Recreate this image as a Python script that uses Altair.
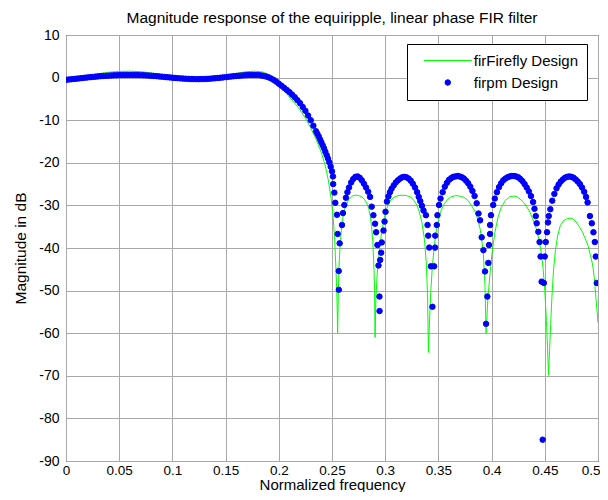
import altair as alt
import pandas as pd

# ---------------- data ----------------
x_ticks = [0, 0.05, 0.1, 0.15, 0.2, 0.25, 0.3, 0.35, 0.4, 0.45, 0.5]
y_ticks = [-90, -80, -70, -60, -50, -40, -30, -20, -10, 0, 10]

# firpm design (dots): passband + transition
firpm_pass_f = [0.0, 0.0025, 0.005, 0.0075, 0.01, 0.0125, 0.015, 0.0175, 0.02, 0.0225,
                0.025, 0.0275, 0.03, 0.0325, 0.035, 0.0375, 0.04, 0.0425, 0.045, 0.0475,
                0.05, 0.0525, 0.055, 0.0575, 0.06, 0.0625, 0.065, 0.0675, 0.07, 0.0725,
                0.075, 0.0775, 0.08, 0.0825, 0.085, 0.0875, 0.09, 0.0925, 0.095, 0.0975,
                0.1, 0.1025, 0.105, 0.1075, 0.11, 0.1125, 0.115, 0.1175, 0.12, 0.1225,
                0.125, 0.1275, 0.13, 0.1325, 0.135, 0.1375, 0.14, 0.1425, 0.145, 0.1475,
                0.15, 0.1525, 0.155, 0.1575, 0.16, 0.1625, 0.165, 0.1675, 0.17, 0.1725,
                0.175, 0.1775, 0.18, 0.1825, 0.185, 0.1875, 0.19, 0.1925, 0.195, 0.1975,
                0.2, 0.2025, 0.205, 0.2075, 0.21, 0.2125, 0.215, 0.2175, 0.22, 0.2225,
                0.225, 0.2275, 0.23, 0.2325, 0.235, 0.23625, 0.2375, 0.23875, 0.24, 0.24125,
                0.2425, 0.24375, 0.245, 0.24625, 0.2475, 0.24875, 0.25]
firpm_pass_db = [-0.50, -0.45, -0.39, -0.32, -0.25, -0.18, -0.11, -0.04, 0.03, 0.10,
                 0.16, 0.22, 0.28, 0.33, 0.38, 0.42, 0.46, 0.50, 0.53, 0.56,
                 0.58, 0.60, 0.61, 0.62, 0.62, 0.62, 0.61, 0.60, 0.58, 0.55,
                 0.52, 0.48, 0.44, 0.39, 0.34, 0.28, 0.22, 0.16, 0.10, 0.04,
                 -0.02, -0.08, -0.13, -0.18, -0.23, -0.27, -0.30, -0.33, -0.35, -0.36,
                 -0.36, -0.35, -0.33, -0.30, -0.26, -0.21, -0.15, -0.09, -0.03, 0.04,
                 0.11, 0.18, 0.25, 0.32, 0.38, 0.44, 0.49, 0.54, 0.58, 0.61,
                 0.62, 0.62, 0.60, 0.54, 0.44, 0.30, 0.10, -0.18, -0.52, -0.94,
                 -1.42, -1.9, -2.4, -2.9, -3.4, -4.0, -4.6, -5.3, -6.0, -6.9,
                 -7.8, -8.9, -10.0, -11.3, -12.6, -13.2, -13.8, -14.5, -15.2, -15.9,
                 -16.6, -17.4, -18.2, -19.0, -19.9, -20.9, -22.0]

# firpm design: stopband, null by null and lobe by lobe
firpm_null1_f = [0.2509, 0.2511, 0.2522, 0.2531, 0.2547, 0.2553, 0.2563, 0.2564, 0.2572, 0.2594, 0.2603, 0.2616]
firpm_null1_db = [-23.2, -25.0, -27.0, -29.4, -32.2, -36.7, -45.4, -49.8, -38.9, -34.6, -31.8, -29.9]
firpm_lobe1_f = [0.2631, 0.2645, 0.2660, 0.2680, 0.2700, 0.2720, 0.2740, 0.2760, 0.2780, 0.2800, 0.2820, 0.2840, 0.2858]
firpm_lobe1_db = [-28.2, -26.9, -25.8, -24.6, -23.8, -23.3, -23.2, -23.5, -24.1, -24.9, -25.8, -26.8, -28.0]
firpm_null2_f = [0.2873, 0.2889, 0.2905, 0.2915, 0.2927, 0.2937, 0.2946, 0.2947, 0.2953, 0.2962, 0.2968, 0.2984, 0.2994, 0.3003, 0.3016]
firpm_null2_db = [-30.3, -32.3, -34.3, -36.3, -39.3, -44.1, -51.4, -54.8, -42.8, -41.1, -38.7, -35.9, -33.8, -31.5, -29.1]
firpm_lobe2_f = [0.3030, 0.3045, 0.3060, 0.3080, 0.3100, 0.3120, 0.3140, 0.3160, 0.3180, 0.3200,
                 0.3220, 0.3240, 0.3260, 0.3280, 0.3300, 0.3315, 0.3330, 0.3345, 0.3360]
firpm_lobe2_db = [-27.9, -26.9, -26.1, -25.3, -24.6, -24.1, -23.7, -23.4, -23.3, -23.4,
                  -23.7, -24.2, -24.9, -25.8, -26.9, -28.0, -29.0, -30.1, -31.2]
firpm_null3_f = [0.3383, 0.3398, 0.3404, 0.3414, 0.3429, 0.3444, 0.3460, 0.3469, 0.3470, 0.3485, 0.3491, 0.3506]
firpm_null3_db = [-32.3, -34.6, -37.1, -39.9, -44.3, -53.8, -44.3, -39.9, -37.1, -34.6, -32.3, -29.9]
firpm_lobe3_f = [0.3520, 0.3540, 0.3560, 0.3580, 0.3600, 0.3620, 0.3640, 0.3660, 0.3680,
                 0.3700, 0.3720, 0.3740, 0.3760, 0.3780, 0.3800, 0.3820, 0.3840, 0.3860]
firpm_lobe3_db = [-28.4, -26.9, -25.6, -24.7, -24.0, -23.6, -23.3, -23.2, -23.1,
                  -23.2, -23.4, -23.7, -24.2, -24.8, -25.6, -26.6, -27.8, -29.5]
firpm_null4_f = [0.3877, 0.3892, 0.3907, 0.3923, 0.3938, 0.3948, 0.3960, 0.3969, 0.3975, 0.3985, 0.3986, 0.3994, 0.4015]
firpm_null4_db = [-31.9, -33.5, -37.5, -40.5, -45.5, -57.8, -51.4, -43.5, -39.3, -36.7, -34.6, -32.3, -29.9]
firpm_lobe4_f = [0.4030, 0.4050, 0.4070, 0.4090, 0.4110, 0.4130, 0.4150, 0.4170, 0.4190, 0.4210,
                 0.4230, 0.4250, 0.4270, 0.4290, 0.4310, 0.4330, 0.4350, 0.4370, 0.4390, 0.4403]
firpm_lobe4_db = [-28.4, -26.9, -25.7, -24.8, -24.1, -23.7, -23.4, -23.2, -23.1, -23.1,
                  -23.2, -23.4, -23.8, -24.3, -25.0, -25.8, -26.7, -27.8, -29.2, -30.8]
firpm_null5_f = [0.4415, 0.4424, 0.4439, 0.4451, 0.4460, 0.4470, 0.4480, 0.4491, 0.4500, 0.4509, 0.4521, 0.4530, 0.4537, 0.4552]
firpm_null5_db = [-32.5, -34.2, -36.2, -38.6, -42.0, -47.9, -85.0, -48.2, -42.0, -38.6, -36.3, -34.0, -32.5, -30.9]
firpm_lobe5_f = [0.4570, 0.4590, 0.4610, 0.4630, 0.4650, 0.4670, 0.4690, 0.4710, 0.4730,
                 0.4750, 0.4770, 0.4790, 0.4810, 0.4830, 0.4850, 0.4870, 0.4888, 0.4902]
firpm_lobe5_db = [-28.9, -27.3, -26.0, -25.1, -24.4, -23.9, -23.5, -23.3, -23.2,
                  -23.3, -23.5, -23.9, -24.4, -25.0, -25.8, -26.8, -28.0, -29.3]
firpm_end_f = [0.4924, 0.4942, 0.4957, 0.4970, 0.4979, 0.4988]
firpm_end_db = [-32.5, -34.2, -36.3, -38.6, -42.0, -48.2]

# firFirefly design (line)
firefly_pass_f = [0.0, 0.01, 0.02, 0.03, 0.04, 0.05, 0.06, 0.07, 0.08, 0.09, 0.10, 0.11, 0.12,
                  0.13, 0.14, 0.15, 0.16, 0.17, 0.178, 0.185, 0.19, 0.195, 0.2, 0.205, 0.21,
                  0.215, 0.22, 0.225, 0.23, 0.235, 0.24, 0.2435, 0.2465, 0.249, 0.251, 0.2525,
                  0.2538, 0.2547, 0.2553]
firefly_pass_db = [-0.5, -0.1, 0.4, 0.9, 1.25, 1.45, 1.5, 1.4, 1.1, 0.65, 0.15, -0.2, -0.4,
                   -0.35, -0.05, 0.45, 1.0, 1.4, 1.5, 1.3, 0.8, -0.1, -1.5, -3.0, -4.6,
                   -6.0, -7.6, -9.5, -11.8, -14.5, -17.6, -20.5, -24.0, -28.0, -32.5, -38.0,
                   -45.5, -52.0, -60.0]
firefly_lobe1_f = [0.2560, 0.2568, 0.2578, 0.2592, 0.2609, 0.2630, 0.2656, 0.2690, 0.2720, 0.2750,
                   0.2781, 0.2805, 0.2828, 0.2845, 0.2859, 0.2872, 0.2884, 0.2895, 0.2900, 0.2905]
firefly_lobe1_db = [-50.0, -43.0, -38.7, -34.5, -31.9, -30.0, -28.7, -27.8, -27.6, -27.7,
                    -28.0, -28.6, -29.5, -30.8, -32.3, -35.0, -38.7, -45.0, -50.0, -61.0]
firefly_lobe2_f = [0.2912, 0.2925, 0.2945, 0.2965, 0.2990, 0.3015, 0.3045, 0.3080, 0.3120, 0.3160,
                   0.3200, 0.3240, 0.3270, 0.3300, 0.3320, 0.3345, 0.3368, 0.3386, 0.3398, 0.3406]
firefly_lobe2_db = [-52.0, -46.0, -40.5, -36.5, -33.0, -30.7, -29.0, -28.1, -27.7, -27.6,
                    -27.7, -28.0, -28.9, -30.0, -31.5, -34.0, -37.8, -43.5, -51.0, -64.5]
firefly_lobe3_f = [0.3418, 0.3429, 0.3444, 0.3466, 0.3490, 0.3520, 0.3552, 0.3585, 0.3620, 0.3660, 0.3700,
                   0.3740, 0.3780, 0.3810, 0.3846, 0.3870, 0.3892, 0.3910, 0.3923, 0.3938, 0.3948]
firefly_lobe3_db = [-56.0, -50.0, -44.0, -38.5, -34.5, -31.5, -29.8, -28.6, -28.0, -27.7, -27.8,
                    -28.1, -28.9, -30.0, -31.5, -33.3, -35.5, -38.5, -41.5, -49.0, -60.0]
firefly_lobe4_f = [0.3965, 0.3985, 0.4005, 0.4030, 0.4060, 0.4090, 0.4130, 0.4170, 0.4210, 0.4240, 0.4270, 0.4300,
                   0.4330, 0.4360, 0.4390, 0.4420, 0.4445, 0.4465, 0.4485, 0.4500, 0.4515, 0.4525, 0.4535]
firefly_lobe4_db = [-52.0, -46.0, -41.0, -36.5, -32.8, -30.5, -28.8, -28.0, -27.8, -28.0, -28.5, -29.3,
                    -30.3, -31.6, -33.4, -35.5, -38.0, -40.8, -45.0, -50.0, -57.0, -63.0, -69.8]
firefly_lobe5_f = [0.4545, 0.4555, 0.4567, 0.4582, 0.4600, 0.4620, 0.4645, 0.4675, 0.4705, 0.4735, 0.4765,
                   0.4795, 0.4825, 0.4855, 0.4880, 0.4905, 0.4930, 0.4950, 0.4965, 0.4980, 0.4995, 0.5000]
firefly_lobe5_db = [-64.0, -58.0, -51.5, -45.2, -40.5, -37.2, -34.8, -33.6, -33.2, -33.0, -33.2,
                    -33.9, -35.0, -36.3, -37.8, -39.3, -41.8, -44.0, -47.0, -51.5, -56.0, -57.5]

SERIES = ["firFirefly Design", "firpm Design"]
COLORS = ["#00ff00", "#0000ff"]
SHAPES = ["M-8.76,0H8.76", "circle"]
FONT = "Liberation Sans"


def part(fs, dbs, name):
    assert len(fs) == len(dbs), (name, len(fs), len(dbs))
    return pd.DataFrame({"f": fs, "db": dbs, "series": name})


blue = pd.concat([
    part(firpm_pass_f, firpm_pass_db, SERIES[1]),
    part(firpm_null1_f, firpm_null1_db, SERIES[1]),
    part(firpm_lobe1_f, firpm_lobe1_db, SERIES[1]),
    part(firpm_null2_f, firpm_null2_db, SERIES[1]),
    part(firpm_lobe2_f, firpm_lobe2_db, SERIES[1]),
    part(firpm_null3_f, firpm_null3_db, SERIES[1]),
    part(firpm_lobe3_f, firpm_lobe3_db, SERIES[1]),
    part(firpm_null4_f, firpm_null4_db, SERIES[1]),
    part(firpm_lobe4_f, firpm_lobe4_db, SERIES[1]),
    part(firpm_null5_f, firpm_null5_db, SERIES[1]),
    part(firpm_lobe5_f, firpm_lobe5_db, SERIES[1]),
    part(firpm_end_f, firpm_end_db, SERIES[1]),
], ignore_index=True)

green = pd.concat([
    part(firefly_pass_f, firefly_pass_db, SERIES[0]),
    part(firefly_lobe1_f, firefly_lobe1_db, SERIES[0]),
    part(firefly_lobe2_f, firefly_lobe2_db, SERIES[0]),
    part(firefly_lobe3_f, firefly_lobe3_db, SERIES[0]),
    part(firefly_lobe4_f, firefly_lobe4_db, SERIES[0]),
    part(firefly_lobe5_f, firefly_lobe5_db, SERIES[0]),
], ignore_index=True)

# ---------------- chart ----------------
xscale = alt.Scale(domain=[0, 0.5], nice=False, zero=False)
yscale = alt.Scale(domain=[-90, 10], nice=False, zero=False)
cscale = alt.Scale(domain=SERIES, range=COLORS)
sscale = alt.Scale(domain=SERIES, range=SHAPES)

legend = alt.Legend(
    title=None, orient="none", legendX=341, legendY=9,
    padding=9, symbolOffset=24.3, labelOffset=18.5, rowPadding=6,
    strokeColor="black", fillColor="white", cornerRadius=0,
    labelFont=FONT, labelFontSize=15, labelColor="black",
    symbolSize=30, symbolStrokeWidth=1,
)

xaxis = alt.Axis(
    values=x_ticks, labelExpr="'' + datum.value", title="Normalized frequency",
    grid=True, ticks=False, tickSize=0, domain=False, labelFlush=False,
    labelAlign={"condition": {"test": "datum.value >= 0.5", "value": "right"}, "value": "center"},
    labelOffset={"condition": {"test": "datum.value >= 0.5", "value": 2}, "value": 0},
    labelOverlap=False, labelPadding=2, titlePadding=1,
    labelFontSize=13.5, titleFontSize=15,
)
yaxis = alt.Axis(
    values=y_ticks, labelExpr="'' + datum.value", title="Magnitude in dB",
    grid=True, ticks=False, tickSize=0, domain=False,
    labelOverlap=False, labelPadding=7, titlePadding=10,
    labelFontSize=14, titleFontSize=15.5,
)

x = alt.X("f:Q", scale=xscale, axis=xaxis)
y = alt.Y("db:Q", scale=yscale, axis=yaxis)

line = alt.Chart(green).mark_line(strokeWidth=1, clip=True).encode(
    x=x, y=y,
    stroke=alt.Stroke("series:N", scale=cscale, legend=legend),
)

dots = alt.Chart(blue).mark_point(filled=True, size=30, strokeWidth=1, opacity=1, clip=True).encode(
    x=x, y=y,
    fill=alt.Fill("series:N", scale=cscale, legend=legend),
    stroke=alt.Stroke("series:N", scale=cscale, legend=legend),
    shape=alt.Shape("series:N", scale=sscale, legend=legend),
)

chart = alt.layer(line, dots).properties(
    width=532, height=426,
    autosize=alt.AutoSizeParams(type="none"),
    padding={"left": 58, "top": 27, "right": 2, "bottom": 31},
    title=alt.TitleParams(
        "Magnitude response of the equiripple, linear phase FIR filter",
        font=FONT, fontSize=15.5, fontWeight="normal", color="black",
        anchor="middle", frame="group", offset=2,
    ),
).configure_view(
    stroke="black", strokeWidth=1
).configure_axis(
    gridColor="#a8a8a8", gridWidth=1, gridOpacity=1,
    labelFont=FONT, titleFont=FONT, labelColor="black", titleColor="black",
    titleFontWeight="normal",
)

chart.save("out.html", embed_options={"renderer": "svg", "actions": False})
